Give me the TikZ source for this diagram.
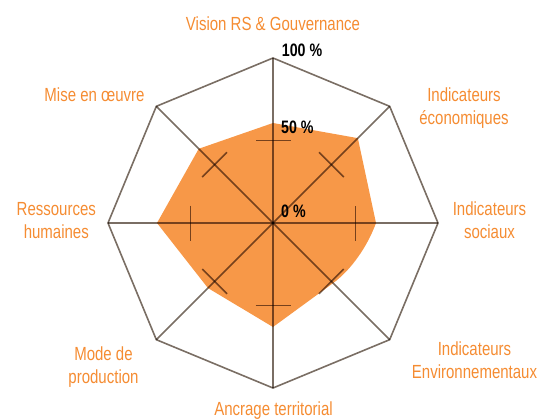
\documentclass[tikz,border=0pt]{standalone}
\usepackage{fontspec}
\setmainfont{Liberation Sans}[FakeStretch=0.79]
\definecolor{radarorange}{RGB}{247,152,72}
\definecolor{labelorange}{RGB}{245,140,50}
\definecolor{axisgray}{RGB}{122,110,100}

\begin{document}
\begin{tikzpicture}[x=1pt,y=1pt,
    axis/.style={axisgray, line width=1.6pt},
    axlabel/.style={text=labelorange, font=\fontsize{19}{23}\selectfont, align=center, inner sep=0pt, anchor=base},
    pct/.style={font=\bfseries\fontsize{18}{20}\selectfont, inner sep=0pt, anchor=base west}]
    \useasboundingbox[clip] (-273,-195) rectangle (280,223);

    % Centre and outer corners
    \coordinate (c) at (0,0);
    \foreach \a/\n in {90/t, 45/tr, 0/r, -45/br, -90/b, -135/bl, 180/l, 135/tl} {
        \coordinate (v\n) at (\a:165);
    }

    % Scores
    \fill[radarorange] (90:100) -- (45:120) -- (0:103)
        .. controls +(-110:25) and +(36:22) .. (-45:85)
        -- (-90:104) -- (-135:92) -- (180:116) -- (135:105) -- cycle;

    % Octagon, axes and 50 % ticks
    \begin{scope}[blend mode=multiply]
        \draw[axis] (vt) -- (vtr) -- (vr) -- (vbr) -- (vb) -- (vbl) -- (vl) -- (vtl) -- cycle;
        \foreach \n in {t, tr, r, br, b, bl, l, tl} {
            \draw[axis] (c) -- (v\n);
        }
        \foreach \a in {90, 45, 0, -45, -90, -135, 180, 135} {
            \draw[axis, rotate=\a] (82.5,-17.5) -- (82.5,17.5);
        }
    \end{scope}

    % Percentages
    \node[pct] (p100) at (8.7,167) {100 \%};
    \node[pct] (p50) at (8,89.7) {50 \%};
    \node[pct] (p0) at (8,5.7) {0 \%};

    % Axis labels (two-line nodes sit on their last line)
    \node[axlabel] (vision) at (0,193) {Vision RS \& Gouvernance};
    \node[axlabel] (eco) at (191,98.3) {Indicateurs\\économiques};
    \node[axlabel] (soc) at (216.5,-15) {Indicateurs\\sociaux};
    \node[axlabel] (env) at (201.5,-155) {Indicateurs\\Environnementaux};
    \node[axlabel] (ancrage) at (0.5,-192) {Ancrage territorial};
    \node[axlabel] (mode) at (-169.5,-160.7) {Mode de\\production};
    \node[axlabel] (rh) at (-216.7,-15) {Ressources\\humaines};
    \node[axlabel] (mise) at (-178.5,121.3) {Mise en œuvre};
\end{tikzpicture}
\end{document}
